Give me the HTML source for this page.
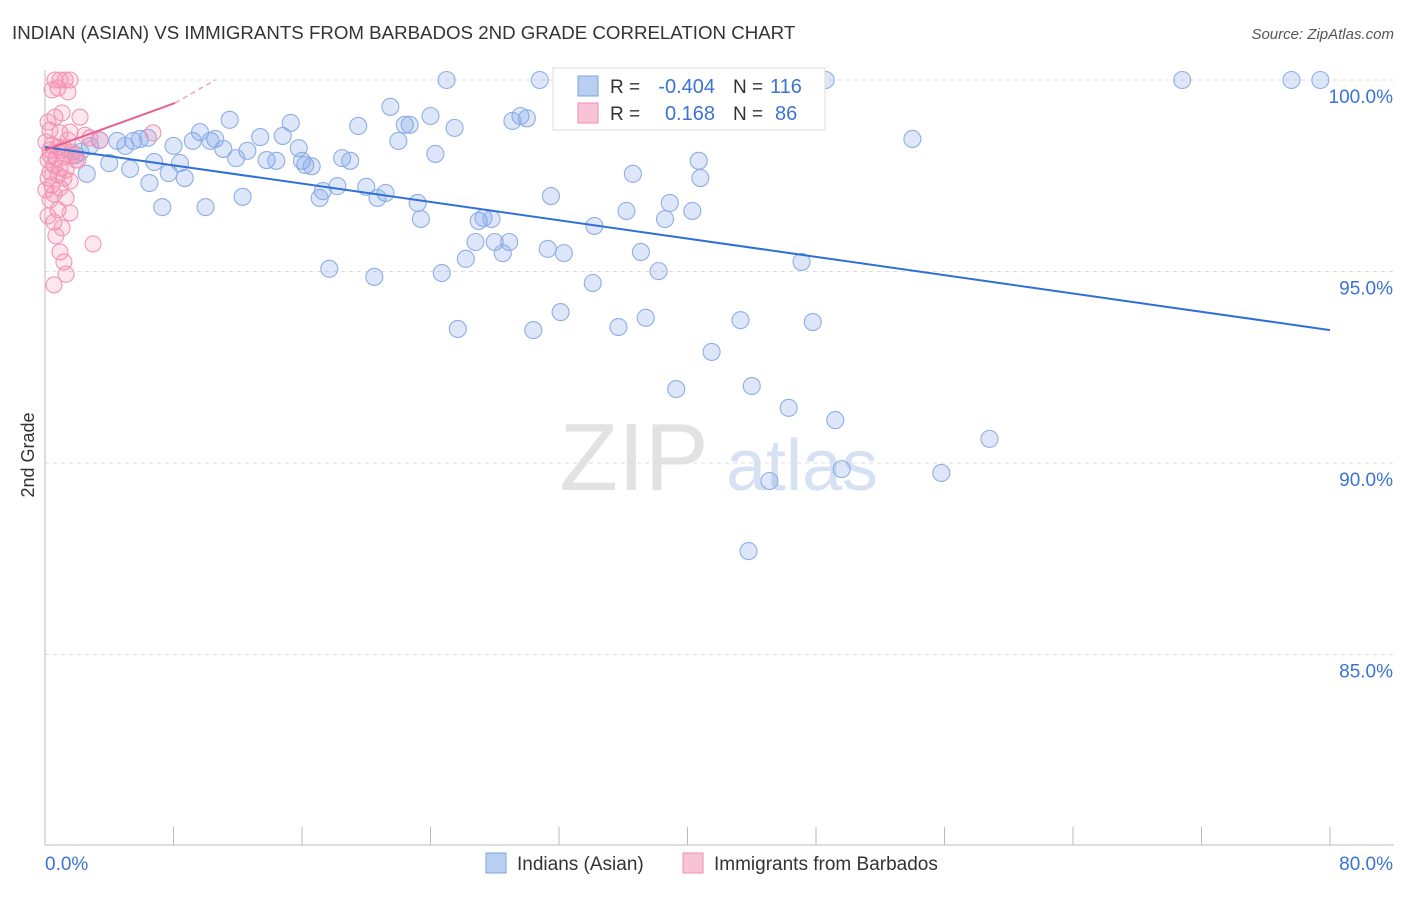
<!DOCTYPE html>
<html><head><meta charset="utf-8"><style>
body{margin:0;background:#fff;font-family:"Liberation Sans",sans-serif;}
svg text{font-family:"Liberation Sans",sans-serif;}
</style></head><body>
<svg id="chart" width="1406" height="892">
<text x="12" y="39" font-size="18.7" fill="#333">INDIAN (ASIAN) VS IMMIGRANTS FROM BARBADOS 2ND GRADE CORRELATION CHART</text>
<text x="1394" y="39" font-size="15" fill="#555" text-anchor="end" font-style="italic">Source: ZipAtlas.com</text>
<text x="34" y="455" font-size="18" fill="#333" text-anchor="middle" transform="rotate(-90 34 455)">2nd Grade</text>
<g><text x="634" y="490" font-size="96" fill="#e2e2e2" font-family="Liberation Serif" text-anchor="middle">ZIP</text><text x="802" y="490" font-size="72" fill="#d6e1f3" text-anchor="middle">atlas</text></g>
<g id="grid"></g><g id="axes"></g><g id="pts"></g><g id="trend"></g>
<g>
<rect x="553" y="68" width="272" height="62" fill="#fff" stroke="#ddd"/>
<rect x="578" y="76" width="20" height="20" fill="#b8cff2" stroke="#7da3e0"/>
<text x="610" y="93" font-size="19" fill="#333">R =</text>
<text x="715" y="93" font-size="20" fill="#3b73d4" text-anchor="end">-0.404</text>
<text x="733" y="93" font-size="19" fill="#333">N =</text>
<text x="770" y="93" font-size="20" fill="#3b73d4">116</text>
<rect x="578" y="103" width="20" height="20" fill="#f9c3d6" stroke="#f08cb0"/>
<text x="610" y="120" font-size="19" fill="#333">R =</text>
<text x="715" y="120" font-size="20" fill="#3b73d4" text-anchor="end">0.168</text>
<text x="733" y="120" font-size="19" fill="#333">N =</text>
<text x="775" y="120" font-size="20" fill="#3b73d4">86</text>
</g>
<g>
<rect x="486" y="853" width="20" height="20" fill="#b8cff2" stroke="#7da3e0"/>
<text x="517" y="870" font-size="19" fill="#333">Indians (Asian)</text>
<rect x="683" y="853" width="20" height="20" fill="#f9c3d6" stroke="#f08cb0"/>
<text x="714" y="870" font-size="19" fill="#333">Immigrants from Barbados</text>
</g>
</svg>
<script>
const yTicks=[100,95,90,85];
const xTickLabels=["0.0%","80.0%"];
const blueX=[25.0,30.8,70.8,77.6,79.4,48.6,21.5,24.0,29.6,30.0,29.1,22.4,22.7,19.5,25.5,11.5,15.3,9.65,13.4,14.8,10.6,9.2,10.3,22.0,54.0,3.4,4.5,5.5,5.9,6.4,2.8,5.0,8.0,11.1,12.6,15.8,24.3,1.9,2.2,11.9,13.8,14.4,4.0,5.3,6.8,8.4,16.0,16.2,16.6,18.5,19.0,40.7,2.6,7.7,8.7,6.5,36.6,40.8,18.2,20.0,21.2,17.3,17.1,20.7,12.3,31.5,23.2,7.3,10.0,38.9,36.2,40.3,38.6,23.4,27.0,27.3,27.8,34.2,26.8,28.0,28.9,28.5,31.3,32.3,37.1,26.2,47.1,17.7,38.2,24.7,20.5,34.1,32.1,37.4,35.7,25.7,30.4,43.3,47.8,41.5,44.0,39.3,46.3,49.2,58.8,55.8,49.6,45.1,43.8];
const blueY=[100,100,100,100,100,100,99.3,99.06,99.06,99.0,98.93,98.83,98.83,98.8,98.75,98.96,98.88,98.64,98.51,98.54,98.46,98.41,98.41,98.41,98.46,98.43,98.41,98.41,98.46,98.49,98.28,98.28,98.28,98.2,98.15,98.22,98.07,98.04,98.12,97.96,97.91,97.89,97.83,97.68,97.86,97.83,97.89,97.78,97.75,97.96,97.89,97.89,97.55,97.57,97.44,97.31,97.55,97.44,97.23,97.21,97.05,97.1,96.92,96.92,96.95,96.97,96.79,96.68,96.68,96.79,96.58,96.58,96.37,96.37,96.32,96.4,96.37,96.19,95.77,95.77,95.77,95.48,95.59,95.48,95.51,95.33,95.25,95.07,95.01,94.96,94.86,94.7,93.94,93.79,93.55,93.5,93.47,93.73,93.68,92.9,92.01,91.93,91.44,91.12,90.63,89.74,89.84,89.53,87.7];
const pinkX=[0.62,0.93,1.25,1.56,0.81,1.43,0.44,2.18,0.62,1.06,0.19,1.56,0.93,0.31,2.8,3.42,6.72,0.44,0.81,1.06,0.31,0.68,1.18,1.68,1.93,0.19,0.56,0.93,1.31,0.31,0.81,1.18,0.19,1.56,0.44,0.93,0.06,0.56,1.31,0.31,0.81,1.56,0.19,0.56,1.06,0.68,2.99,0.93,1.18,1.31,0.56,1.18,1.68,2.05,1.43,2.49,0.06,0.31];
const pinkY=[100,100,100,100,99.79,99.69,99.74,99.03,99.03,99.14,98.9,98.64,98.62,98.69,98.49,98.43,98.62,98.3,98.25,98.17,98.04,97.96,97.99,98.02,97.91,97.91,97.78,97.7,97.65,97.6,97.52,97.44,97.44,97.36,97.26,97.18,97.13,97.02,96.92,96.87,96.61,96.53,96.45,96.29,96.14,95.93,95.72,95.51,95.25,94.93,94.65,98.22,98.12,97.91,98.43,98.56,98.38,98.17];
const blueTrend=[[0,98.25],[80,93.47]];
const pinkTrend=[[0,98.17],[8.1,99.4]];
const pinkTrendExt=[[8.1,99.4],[10.6,100]];
const X0=45,X1=1330,Y100=80,PX_PER=38.3;
const sx=v=>X0+(v/80)*(X1-X0);
const sy=v=>Y100+(100-v)*PX_PER;
const NS="http://www.w3.org/2000/svg";
function mk(tag,attrs,parent){const e=document.createElementNS(NS,tag);for(const k in attrs)e.setAttribute(k,attrs[k]);document.getElementById(parent).appendChild(e);return e;}
yTicks.forEach(t=>{
 const l=mk('line',{x1:X0,x2:1394,y1:sy(t),y2:sy(t),stroke:'#ddd','stroke-dasharray':'4,4'},'grid');
 
 
 const tx=mk('text',{x:1393,y:sy(t)+23,'font-size':19,fill:'#3b73d4','text-anchor':'end'},'grid');
 tx.textContent=t.toFixed(1)+'%';
 
 
});
const ax=mk('line',{x1:X0,x2:1394,y1:845,y2:845,stroke:'#bbb'},'axes');


const ay=mk('line',{x1:X0,x2:X0,y1:70,y2:845,stroke:'#bbb'},'axes');


for(let i=0;i<=10;i++){
 const t=mk('line',{x1:sx(i*8),x2:sx(i*8),y1:827,y2:845,stroke:'#bbb'},'axes');
 
 
}
const xl0=mk('text',{x:45,y:870,'font-size':19,fill:'#3b73d4'},'axes');xl0.textContent=xTickLabels[0];


const xl1=mk('text',{x:1393,y:870,'font-size':19,fill:'#3b73d4','text-anchor':'end'},'axes');xl1.textContent=xTickLabels[1];


blueX.forEach((v,i)=>{
 const c=mk('circle',{cx:sx(v),cy:sy(blueY[i]),r:8.5,fill:'rgba(120,160,230,0.25)',stroke:'#8eaee5','stroke-width':1.1},'pts');
 
 
});
pinkX.forEach((v,i)=>{
 const c=mk('circle',{cx:sx(v),cy:sy(pinkY[i]),r:8,fill:'rgba(245,140,175,0.22)',stroke:'#f295b6','stroke-width':1.1},'pts');
 
 
});
const bl=mk('line',{x1:sx(blueTrend[0][0]),y1:sy(blueTrend[0][1]),x2:sx(blueTrend[1][0]),y2:sy(blueTrend[1][1]),stroke:'#2f6fd6','stroke-width':2},'trend');


const pl=mk('line',{x1:sx(pinkTrend[0][0]),y1:sy(pinkTrend[0][1]),x2:sx(pinkTrend[1][0]),y2:sy(pinkTrend[1][1]),stroke:'#e8608e','stroke-width':2},'trend');


const pd=mk('line',{x1:sx(pinkTrendExt[0][0]),y1:sy(pinkTrendExt[0][1]),x2:sx(pinkTrendExt[1][0]),y2:sy(pinkTrendExt[1][1]),stroke:'#f0a0bc','stroke-width':1.5,'stroke-dasharray':'5,4'},'trend');


</script>
</body></html>
